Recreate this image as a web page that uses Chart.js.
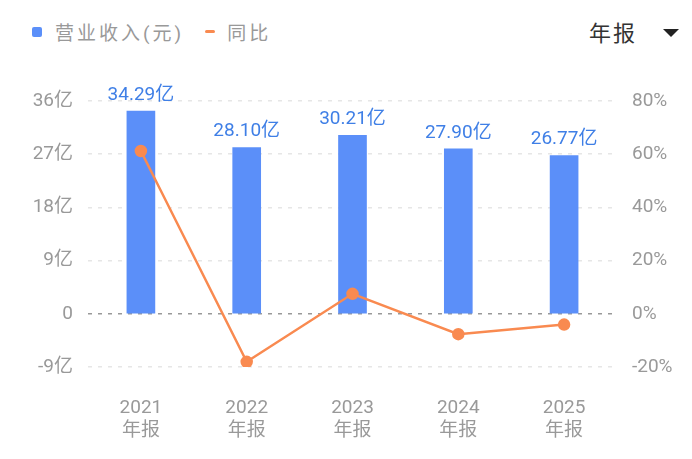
<!DOCTYPE html>
<html lang="zh">
<head>
  <meta charset="UTF-8">
  <title>营业收入</title>
  <style>
    body {
      margin: 0;
      background: #fff;
      font-family: Roboto, "Noto Sans CJK SC", sans-serif;
    }
    .wrap {
      position: relative;
      width: 692px;
      height: 459px;
    }
    .legend {
      position: absolute;
      left: 32px;
      top: 18px;
      font-size: 19px;
      letter-spacing: 3px;
      color: #999;
      display: flex;
      align-items: center;
    }
    .sq {
      width: 10px;
      height: 10px;
      border-radius: 2px;
      background: #5b8ff9;
      margin-right: 13px;
    }
    .dash {
      width: 10px;
      height: 3px;
      border-radius: 2px;
      background: #f98a50;
      margin: 0 12px 0 21px;
    }
    .period {
      position: absolute;
      left: 589px;
      top: 15px;
      font-size: 22px;
      color: #333;
      letter-spacing: 2px;
    }
    .tri {
      position: absolute;
      left: 663px;
      top: 29px;
      width: 0;
      height: 0;
      border-left: 8px solid transparent;
      border-right: 8px solid transparent;
      border-top: 8px solid #222;
    }
    canvas {
      position: absolute;
      left: 0;
      top: 0;
    }
  </style>
</head>
<body>
<div class="wrap">
  <div class="legend">
    <div class="sq"></div><span>营业收入(元)</span>
    <div class="dash"></div><span>同比</span>
  </div>
  <div class="period">年报</div>
  <div class="tri"></div>
  <canvas id="chart" width="692" height="459"></canvas>
</div>

<script src="https://cdn.jsdelivr.net/npm/chart.js"></script>
<script>
  const years = ['2021', '2022', '2023', '2024', '2025'];
  const revenue = [34.29, 28.10, 30.21, 27.90, 26.77]; // 亿元
  const yoy = [61.2, -18.05, 7.51, -7.65, -4.05]; // %
  const leftTicks = [-9, 0, 9, 18, 27, 36];
  const rightTicks = [-20, 0, 20, 40, 60, 80];

  const fontFamily = 'Roboto, "Noto Sans CJK SC", sans-serif';
  const labelFont = { family: fontFamily, size: 19 };

  // value labels above bars
  const barLabels = {
    id: 'barLabels',
    afterDatasetsDraw(chart) {
      const ctx = chart.ctx;
      const meta = chart.getDatasetMeta(1);
      ctx.save();
      ctx.font = '19px ' + fontFamily;
      ctx.fillStyle = '#3f7fe6';
      ctx.textAlign = 'center';
      ctx.textBaseline = 'middle';
      meta.data.forEach((bar, i) => {
        ctx.fillText(revenue[i].toFixed(2) + '亿', bar.x, bar.y - 16);
      });
      ctx.restore();
    }
  };

  const gridColor = ctx => ctx.tick && ctx.tick.value === 0 ? '#999' : '#e6e6e6';

  new Chart(document.getElementById('chart'), {
    data: {
      labels: years.map(y => [y, '年报']),
      datasets: [
        {
          type: 'line',
          label: '同比',
          data: yoy,
          yAxisID: 'y1',
          borderColor: '#f98a50',
          backgroundColor: '#f98a50',
          borderWidth: 2.5,
          pointRadius: 5,
          pointHoverRadius: 5,
          tension: 0,
          order: 0
        },
        {
          type: 'bar',
          label: '营业收入(元)',
          data: revenue,
          yAxisID: 'y',
          backgroundColor: '#5b8ff9',
          barThickness: 28,
          order: 1
        }
      ]
    },
    options: {
      responsive: false,
      animation: false,
      layout: { padding: { top: 101 } },
      plugins: {
        legend: { display: false },
        tooltip: { enabled: false }
      },
      scales: {
        x: {
          grid: { display: false },
          border: { display: false },
          ticks: { color: '#999', font: labelFont, padding: 22, lineHeight: 1.15 },
          afterFit(scale) { scale.height = 92; }
        },
        y: {
          position: 'left',
          min: -9,
          max: 36,
          afterBuildTicks(scale) { scale.ticks = leftTicks.map(v => ({ value: v })); },
          afterFit(scale) { scale.width = 88; },
          grid: { color: gridColor, lineWidth: 1.5, drawTicks: false },
          border: { display: false, dash: [4, 6] },
          ticks: {
            color: '#999',
            font: labelFont,
            padding: 15,
            callback: v => v === 0 ? '0' : v + '亿'
          }
        },
        y1: {
          position: 'right',
          min: -20,
          max: 80,
          afterBuildTicks(scale) { scale.ticks = rightTicks.map(v => ({ value: v })); },
          afterFit(scale) { scale.width = 75; },
          grid: { display: false, drawTicks: false },
          border: { display: false },
          ticks: {
            color: '#999',
            font: labelFont,
            padding: 15,
            callback: v => v + '%'
          }
        }
      }
    },
    plugins: [barLabels]
  });
</script>
</body>
</html>
